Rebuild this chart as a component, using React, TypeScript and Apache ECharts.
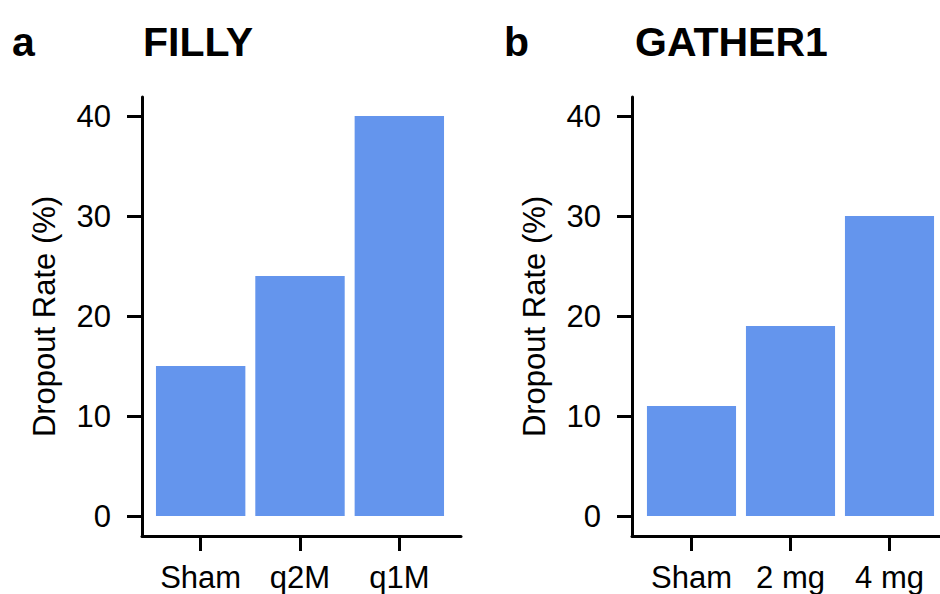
import React, { useEffect, useRef } from "react";
import * as echarts from "echarts";

const fillyCategories = ["Sham", "q2M", "q1M"];
const fillyValues = [15, 24, 40];
const gatherCategories = ["Sham", "2 mg", "4 mg"];
const gatherValues = [11, 19, 30];
const yTickValues = [0, 10, 20, 30, 40];
const panelLabels = ["a", "b"];
const panelTitles = ["FILLY", "GATHER1"];
const yAxisTitle = "Dropout Rate (%)";

const FONT = "'Liberation Sans', Arial, Helvetica, sans-serif";
const BAR_COLOR = "#6495ED";

export default function App() {
  const ref = useRef<HTMLDivElement>(null);
  useEffect(() => {
    document.body.style.margin = "0";
    if (!ref.current) return;
    const chart = echarts.init(ref.current, null, { renderer: "svg" });

    const lineStyle = { color: "#000", width: 3 };
    const catAxis = (gridIndex: number, data: string[]) => ({
      type: "category",
      gridIndex,
      data,
      axisLine: { show: false, onZero: false },
      axisTick: { show: true, alignWithLabel: true, interval: 0, length: 15, lineStyle },
      axisLabel: { interval: 0, fontSize: 31, color: "#000", margin: 26, fontFamily: FONT },
      splitLine: { show: false },
    });
    const lineAxis = (gridIndex: number) => ({
      type: "value",
      gridIndex,
      min: 0,
      max: 1,
      axisLine: { show: true, onZero: false, lineStyle },
      axisTick: { show: false },
      axisLabel: { show: false },
      splitLine: { show: false },
    });
    const valAxis = (gridIndex: number, offset: number) => ({
      type: "value",
      gridIndex,
      min: -2,
      max: 41.9,
      offset,
      axisLine: { show: true, onZero: false, lineStyle },
      axisTick: { show: true, length: 15, lineStyle, customValues: yTickValues },
      axisLabel: {
        show: true,
        fontSize: 31,
        color: "#000",
        margin: 31,
        fontFamily: FONT,
        customValues: yTickValues,
      },
      splitLine: { show: false },
      name: yAxisTitle,
      nameLocation: "middle",
      nameGap: 82,
      nameTextStyle: { fontSize: 31, color: "#000", fontFamily: FONT },
    });
    const hiddenAxis = (gridIndex: number) => ({
      type: "value",
      gridIndex,
      show: false,
      min: 0,
      max: 1,
    });
    const titleStyle = { fontSize: 41, fontWeight: "bold", color: "#000", fontFamily: FONT };

    chart.setOption({
      animation: false,
      backgroundColor: "#fff",
      title: [
        { text: panelLabels[0], left: 12, top: 21, padding: 0, textStyle: titleStyle },
        { text: panelTitles[0], left: 143, top: 21, padding: 0, textStyle: titleStyle },
        { text: panelLabels[1], left: 504, top: 21, padding: 0, textStyle: titleStyle },
        { text: panelTitles[1], left: 635, top: 21, padding: 0, textStyle: titleStyle },
      ],
      grid: [
        { left: 151, top: 97, width: 298, height: 439, outerBoundsMode: "none" },
        { left: 642, top: 97, width: 297, height: 439, outerBoundsMode: "none" },
        { left: 142, top: 97, width: 319, height: 439, outerBoundsMode: "none" },
        { left: 632, top: 97, width: 308, height: 439, outerBoundsMode: "none" },
      ],
      xAxis: [
        catAxis(0, fillyCategories),
        catAxis(1, gatherCategories),
        lineAxis(2),
        lineAxis(3),
      ],
      yAxis: [valAxis(0, 9), valAxis(1, 10), hiddenAxis(2), hiddenAxis(3)],
      series: [
        {
          type: "bar",
          xAxisIndex: 0,
          yAxisIndex: 0,
          data: fillyValues,
          barCategoryGap: "10%",
          itemStyle: { color: BAR_COLOR },
        },
        {
          type: "bar",
          xAxisIndex: 1,
          yAxisIndex: 1,
          data: gatherValues,
          barCategoryGap: "10%",
          itemStyle: { color: BAR_COLOR },
        },
      ],
    });
    return () => chart.dispose();
  }, []);
  return <div ref={ref} style={{ width: 940, height: 594 }} />;
}
